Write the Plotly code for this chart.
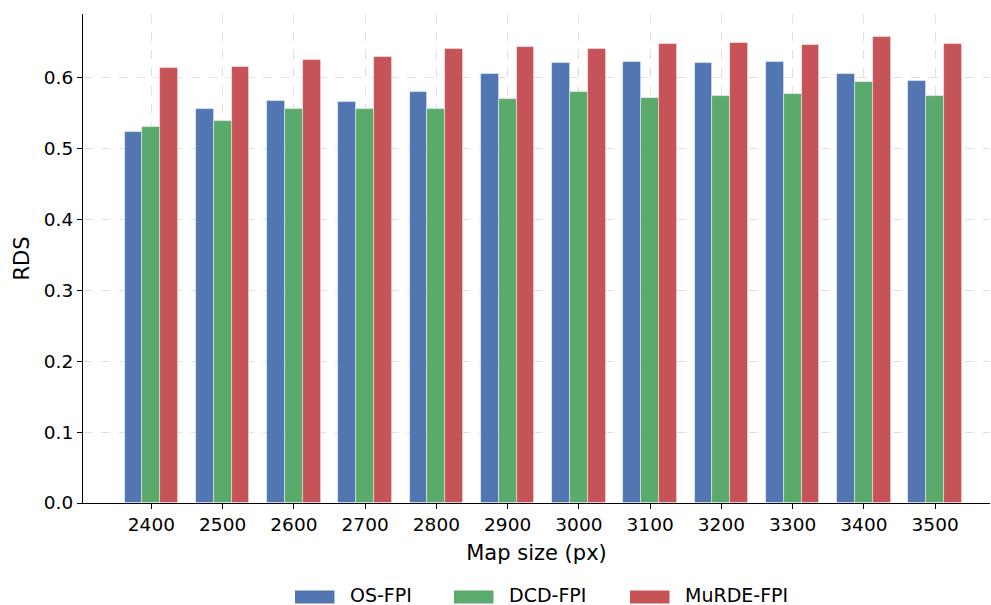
import plotly.graph_objects as go

categories = ["2400", "2500", "2600", "2700", "2800", "2900", "3000", "3100", "3200", "3300", "3400", "3500"]
os_fpi = [0.523, 0.555, 0.567, 0.565, 0.579, 0.605, 0.620, 0.622, 0.620, 0.622, 0.605, 0.594]
dcd_fpi = [0.530, 0.538, 0.555, 0.555, 0.555, 0.569, 0.579, 0.571, 0.574, 0.576, 0.593, 0.573]
murde_fpi = [0.613, 0.614, 0.624, 0.628, 0.640, 0.642, 0.639, 0.647, 0.648, 0.645, 0.656, 0.647]
y_ticks = [0.0, 0.1, 0.2, 0.3, 0.4, 0.5, 0.6]

series_names = ["OS-FPI", "DCD-FPI", "MuRDE-FPI"]
series_values = [os_fpi, dcd_fpi, murde_fpi]
series_colors = ["#4C72B0", "#55A868", "#C44E52"]
series_offsets = [-0.25, 0.0, 0.25]

idx = list(range(len(categories)))
fig = go.Figure()
for name, vals, color, off in zip(series_names, series_values, series_colors, series_offsets):
    fig.add_trace(go.Bar(
        x=[i + off for i in idx], y=vals, name=name, width=0.25,
        marker=dict(color=color, line=dict(color="rgba(255,255,255,0.6)", width=0.8)),
        opacity=0.97, showlegend=False,
    ))

W, H = 991, 605
ML, MR, MT, MB = 83, 1, 14, 102
PW = W - ML - MR
PH = H - MT - MB


def px_x(ax):  # window px -> paper x
    return (ax - ML) / PW


def px_y(ay):  # window px -> paper y
    return (H - MB - ay) / PH


# manual legend (wide swatches like the reference)
legend_swatch_x = [295, 454, 630]
legend_text_x = [350, 509, 685]
shapes = []
annotations = []
for sx, tx, name, color in zip(legend_swatch_x, legend_text_x, series_names, series_colors):
    shapes.append(dict(type="rect", xref="paper", yref="paper",
                       x0=px_x(sx), x1=px_x(sx + 39.5), y0=px_y(590.5), y1=px_y(603.5),
                       fillcolor=color, line=dict(width=0), opacity=0.97, layer="above"))
    annotations.append(dict(text=name, xref="paper", yref="paper", x=px_x(tx - 2), y=px_y(595),
                            xanchor="left", yanchor="middle", showarrow=False,
                            font=dict(size=19, family="DejaVu Sans", color="black")))

fig.update_layout(
    width=W, height=H,
    margin=dict(l=ML, r=MR, t=MT, b=MB),
    plot_bgcolor="white", paper_bgcolor="white",
    font=dict(family="DejaVu Sans", size=18.5, color="black"),
    barmode="overlay",
    bargap=0,
    showlegend=False,
    shapes=shapes,
    annotations=annotations,
)
fig.update_xaxes(
    tickmode="array", tickvals=idx, ticktext=categories,
    range=[-0.96, 11.77],
    showline=True, linecolor="black", linewidth=1.2,
    ticks="outside", ticklen=5, tickcolor="black",
    showgrid=True, gridcolor="#e0e0e0", griddash="dash", gridwidth=1,
    zeroline=False, automargin=False,
    title=dict(text="Map size (px)", font=dict(size=21), standoff=11),
    tickfont=dict(size=18.5),
)
fig.update_yaxes(
    range=[0, 0.689],
    tickmode="array", tickvals=y_ticks, ticktext=[f"{v:.1f}" for v in y_ticks],
    showline=True, linecolor="black", linewidth=1.2,
    ticks="outside", ticklen=5, tickcolor="black",
    showgrid=True, gridcolor="#e0e0e0", griddash="dash", gridwidth=1,
    zeroline=False, automargin=False,
    title=dict(text="RDS", font=dict(size=21), standoff=8),
    tickfont=dict(size=18.5),
)

fig.write_html(
    "out.html",
    config={"displayModeBar": False},
    post_script="document.body.style.margin='0';document.body.style.overflow='hidden';",
)
